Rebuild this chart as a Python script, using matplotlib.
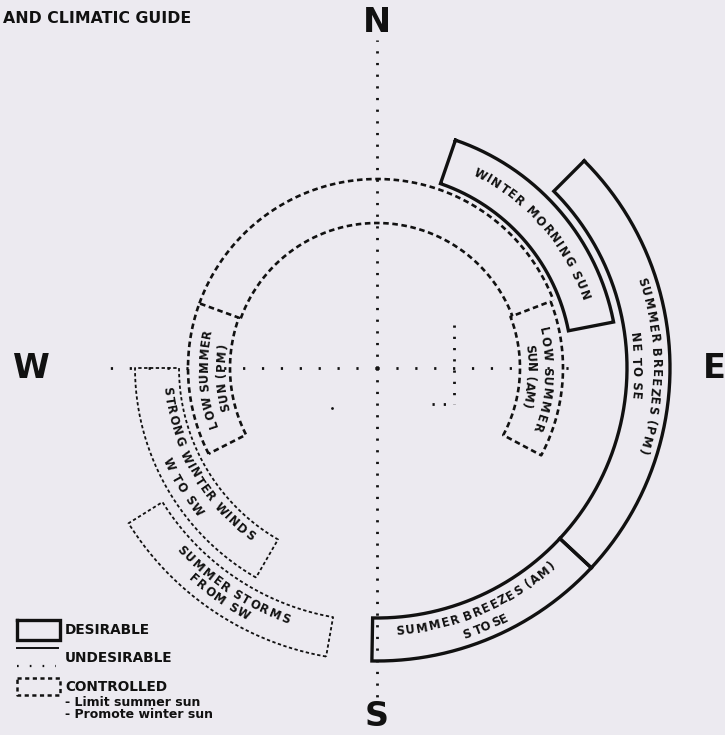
import numpy as np
import matplotlib
matplotlib.use("Agg")
import matplotlib.pyplot as plt
from matplotlib.font_manager import FontProperties

plt.rcParams['lines.scale_dashes'] = False

BG = "#ECEAF0"
INK = "#111111"

# ---------------- data ----------------
title = "AND CLIMATIC GUIDE"

compass_labels = ["N", "E", "S", "W"]
compass_bearings = [0, 90, 180, 270]
compass_r = [346, 337, 349, 346]

# compass axis dotted lines (bearing, length)
axis_bearings = [0, 180, 270, 90]
axis_len = [328, 330, 277, 205]

# zones: bearing range (deg clockwise from N), radii, kind
zone_names = ["Winter morning sun", "Summer breezes (PM)", "Summer breezes (AM)",
              "Low summer sun (AM)", "Low summer sun (PM)",
              "Strong winter winds", "Summer storms"]
zone_from = [19, 45, 133, 69, 243, 210, 190]
zone_to = [79, 133, 181, 118, 290, 270, 238]
zone_inner = [195, 250, 250, 143, 147, 198, 253]
zone_outer = [241, 293, 293, 186, 189, 242, 293]
zone_kind = ["desirable", "desirable", "desirable", "controlled", "controlled",
             "undesirable", "undesirable"]

# controlled sun-path rings
ring_r = [189, 145]
ring_from = [290, 290]
ring_to = [429, 429]

# curved labels
label_text = ["WINTER MORNING SUN", "SUMMER BREEZES (PM)", "NE TO SE",
              "SUMMER BREEZES (AM)", "S TO SE",
              "LOW SUMMER", "SUN (AM)", "LOW SUMMER", "SUN (PM)",
              "STRONG WINTER WINDS", "W TO SW", "SUMMER STORMS", "FROM SW"]
label_r = [219, 278, 259, 264, 281, 170, 153, 173, 156, 211, 230, 267, 280]
label_from = [26, 71, 82, 176, 162, 76, 81, 250, 254, 265, 247, 228, 222]
label_to = [72, 108, 97, 138, 152.5, 112, 105, 283, 279, 216, 230, 199, 207]

# small dotted reference marks near the centre (pixel coords)
mark_x = [[454, 454], [432, 454]]
mark_y = [[325, 404], [404, 404]]
dot_x = [332]
dot_y = [408]

legend_items = ["DESIRABLE", "UNDESIRABLE", "CONTROLLED"]
legend_notes = ["- Limit summer sun", "- Promote winter sun"]

# ---------------- drawing ----------------
CX, CY = 377, 368

fig = plt.figure(figsize=(7.25, 7.35), dpi=100, facecolor=BG)
ax = fig.add_axes([0, 0, 1, 1])
ax.set_facecolor(BG)
ax.set_xlim(0, 725)
ax.set_ylim(735, 0)
ax.axis('off')
renderer = fig.canvas.get_renderer()


def pos(b, r):
    t = np.radians(b)
    return CX + r * np.sin(t), CY - r * np.cos(t)


STYLES = {
    "desirable": dict(color=INK, lw=2.4, solid_joinstyle='miter'),
    "controlled": dict(color=INK, lw=1.9, dashes=(4, 2.6)),
    "undesirable": dict(color=INK, lw=1.3, dashes=(2.4, 1.8)),
}

# axis lines
for b, L in zip(axis_bearings, axis_len):
    x, y = pos(b, np.array([0, L]))
    if b in (0, 180):
        ax.plot(x, y, color=INK, lw=2.0, dashes=(1.6, 6.8), solid_capstyle='butt')
    else:
        ax.plot(x, y, color=INK, lw=2.0, dashes=(1.6, 12), solid_capstyle='butt')

for mx, my in zip(mark_x, mark_y):
    ax.plot(mx, my, color=INK, lw=2.0, dashes=(1.6, 6.5))
ax.plot(dot_x, dot_y, 'o', color=INK, ms=2.0, mew=0)

# rings
for r, b0, b1 in zip(ring_r, ring_from, ring_to):
    t = np.linspace(b0, b1, 300)
    x, y = pos(t, r)
    ax.plot(x, y, **STYLES["controlled"])

# zones
for b0, b1, r0, r1, kind in zip(zone_from, zone_to, zone_inner, zone_outer, zone_kind):
    t = np.linspace(b0, b1, 200)
    xo, yo = pos(t, r1)
    xi, yi = pos(t[::-1], r0)
    xs = np.concatenate([xo, xi, xo[:1]])
    ys = np.concatenate([yo, yi, yo[:1]])
    ax.plot(xs, ys, **STYLES[kind])

# curved labels
fp_arc = FontProperties(family='DejaVu Sans', weight='bold', size=8.4)


def arc_text(s, r, b0, b1):
    widths = np.array([renderer.get_text_width_height_descent(ch, fp_arc, ismath=False)[0]
                       for ch in s])
    centers = np.cumsum(widths) - widths / 2
    frac = centers / widths.sum()
    for ch, f in zip(s, frac):
        b = b0 + (b1 - b0) * f
        x, y = pos(b, r)
        rot = -b if b1 > b0 else 180 - b
        ax.text(x, y, ch, rotation=rot, rotation_mode='anchor', ha='center',
                va='center', fontproperties=fp_arc, color=INK)


for s, r, b0, b1 in zip(label_text, label_r, label_from, label_to):
    arc_text(s, r, b0, b1)

# compass letters
for lab, b, r in zip(compass_labels, compass_bearings, compass_r):
    x, y = pos(b, r)
    ax.text(x, y, lab, ha='center', va='center', fontsize=24, fontweight='heavy',
            family='DejaVu Sans', color=INK)

# title
ax.text(3, 18, title, ha='left', va='center', fontsize=11.3, fontweight='bold',
        family='DejaVu Sans', color=INK)

# legend
ax.plot([17, 60, 60, 17, 17], [620, 620, 640, 640, 620], color=INK, lw=2.4,
        solid_joinstyle='miter')
ax.plot([17, 58], [648, 648], color=INK, lw=1.4)
ax.plot([17, 56], [666, 666], color=INK, lw=1.6, dashes=(1.2, 8))
ax.plot([17, 60, 60, 17, 17], [678, 678, 695, 695, 678], color=INK, lw=1.8,
        dashes=(3, 2.5))
leg_y = [630, 658, 687]
for t, yy in zip(legend_items, leg_y):
    ax.text(65, yy, t, ha='left', va='center', fontsize=9.8, fontweight='bold',
            family='DejaVu Sans', color=INK)
for t, yy in zip(legend_notes, [702, 715]):
    ax.text(65, yy, t, ha='left', va='center', fontsize=9.0, fontweight='bold',
            family='DejaVu Sans', color=INK)

fig.savefig("out.png", dpi=100, facecolor=BG)
